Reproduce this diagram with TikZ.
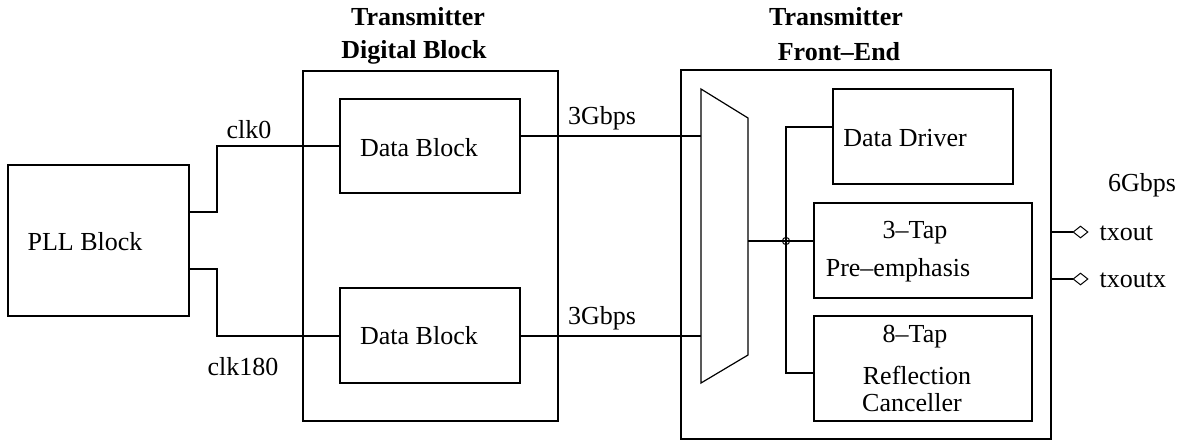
\documentclass[tikz,border=0pt]{standalone}
\usepackage{fontspec}
\setmainfont{Liberation Serif}
\usetikzlibrary{fit,shapes.geometric}
\begin{document}
\begin{tikzpicture}[x=0.5pt,y=-0.5pt,
  line width=0.6pt,
  box/.style={draw,inner sep=0pt},
  txt/.style={inner sep=0pt,font=\fontsize{13}{15.5}\selectfont,align=center},
  ttl/.style={txt,font=\fontsize{13}{15.5}\selectfont\bfseries},
  pin/.style={draw,diamond,inner sep=0pt,minimum width=7.5pt,minimum height=6pt,line width=0.5pt},
  wire/.style={line width=0.6pt}]
\useasboundingbox (0,0) rectangle (1183,441);
% boxes
\node[box,fit={(8,165) (189,316)}] (pll) {};
\node[box,fit={(303,71) (558,421)}] (dig) {};
\node[box,fit={(340,99) (520,193)}] (db1) {};
\node[box,fit={(340,288) (520,383)}] (db2) {};
\node[box,fit={(681,70) (1051,439)}] (fe) {};
\node[box,fit={(833,89) (1013,184)}] (drv) {};
\node[box,fit={(814,203) (1032,298)}] (pre) {};
\node[box,fit={(814,316) (1032,421)}] (rc) {};
% mux
\coordinate (m1) at (701,89);
\coordinate (m2) at (748,118);
\coordinate (m3) at (748,355);
\coordinate (m4) at (701,383);
\draw (m1) -- (m2) -- (m3) -- (m4) -- cycle;
\coordinate (muxin1) at (701,136);
\coordinate (muxin2) at (701,336);
\coordinate (muxout) at (748,241);
\coordinate (bus) at (786,241);
\node[draw,circle,inner sep=0pt,minimum size=3.6pt,line width=0.5pt] (jn) at (bus) {};
% texts
\node[ttl] (t1a) at (418,17) {Transmitter};
\node[ttl] (t1b) at (414,52) {Digital Block};
\node[ttl] (t2a) at (836,17) {Transmitter};
\node[ttl] (t2b) at (839,52) {Front--End};
\node[txt] (lpll) at (85,242) {PLL Block};
\node[txt] (ldb1) at (419,148) {Data Block};
\node[txt] (ldb2) at (419,336) {Data Block};
\node[txt] (lclk0) at (249,130) {clk0};
\node[txt] (lclk180) at (243,367) {clk180};
\node[txt] (lg1) at (602,118) {3Gbps};
\node[txt] (lg2) at (602,318) {3Gbps};
\node[txt] (ldrv) at (905,138) {Data Driver};
\node[txt] (lpre1) at (915,233) {3--Tap};
\node[txt] (lpre2) at (898,270) {Pre--emphasis};
\node[txt] (lrc1) at (915,337) {8--Tap};
\node[txt] (lrc2) at (917,375) {Reflection};
\node[txt] (lrc3) at (912,403) {Canceller};
\node[txt] (l6g) at (1142,185) {6Gbps};
% pins
\node[pin] (p1) at (1080.5,232) {};
\node[pin] (p2) at (1080.5,279) {};
\node[txt,anchor=west] (lp1) at (1099,233) {txout};
\node[txt,anchor=west] (lp2) at (1099,280) {txoutx};
% connectors
\draw[wire] (pll.east |- 0,212) -| (217,146) -- (db1.west |- 0,146);
\draw[wire] (pll.east |- 0,269) -| (217,336) -- (db2.west |- 0,336);
\draw[wire] (db1.east |- muxin1) -- (muxin1);
\draw[wire] (db2.east |- muxin2) -- (muxin2);
\draw[wire] (muxout) -- (pre.west |- muxout);
\draw[wire] (drv.west |- 0,127) -| (786,373) -- (rc.west |- 0,373);
\draw[wire] (fe.east |- p1) -- (p1.west);
\draw[wire] (fe.east |- p2) -- (p2.west);
\end{tikzpicture}
\end{document}
